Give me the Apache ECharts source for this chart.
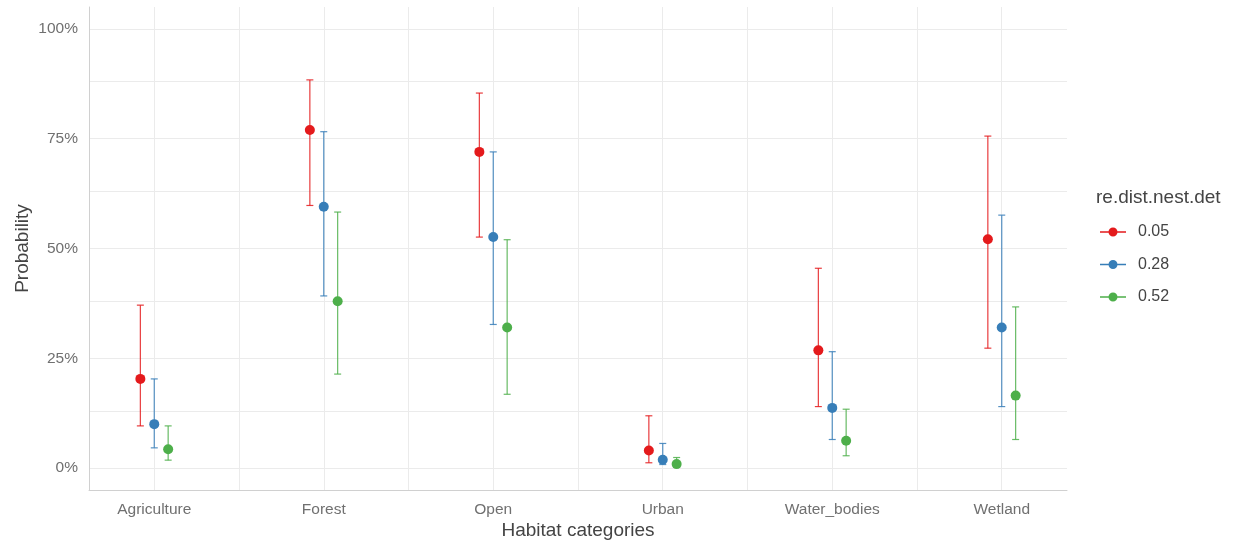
<!DOCTYPE html>
<html>
<head>
<meta charset="utf-8">
<script src="https://cdn.jsdelivr.net/npm/echarts@6.0.0/dist/echarts.min.js"></script>
<style>
html,body{margin:0;padding:0;background:#fff;}
#chart{width:1239px;height:543px;}
</style>
</head>
<body>
<div id="chart"></div>
<script>
// ---- data (proportions, 0..1) ----
const categories = ['Agriculture','Forest','Open','Urban','Water_bodies','Wetland'];
const groups = ['0.05','0.28','0.52'];
const est_005 = [0.203, 0.770, 0.720, 0.040, 0.268, 0.521];
const low_005 = [0.096, 0.598, 0.526, 0.012, 0.140, 0.273];
const up_005  = [0.371, 0.884, 0.854, 0.119, 0.455, 0.756];
const est_028 = [0.100, 0.595, 0.526, 0.019, 0.137, 0.320];
const low_028 = [0.046, 0.392, 0.327, 0.008, 0.065, 0.140];
const up_028  = [0.203, 0.766, 0.720, 0.056, 0.265, 0.576];
const est_052 = [0.043, 0.380, 0.320, 0.009, 0.062, 0.165];
const low_052 = [0.018, 0.214, 0.168, 0.003, 0.028, 0.065];
const up_052  = [0.096, 0.583, 0.520, 0.024, 0.134, 0.367];
const yTicks = [0, 0.25, 0.5, 0.75, 1];

const colors = ['#E41A1C','#377EB8','#4DAF4A'];
const dodge = [-0.082, 0, 0.082];
const ests = [est_005, est_028, est_052];
const lows = [low_005, low_028, low_052];
const ups  = [up_005, up_028, up_052];

const gridX = [];
for (let i = 0; i <= 10; i++) gridX.push(i * 0.5);
const gridY = [];
for (let i = 0; i <= 8; i++) gridY.push(i * 0.125);

const series = [];
// grid lines drawn through the axes' scales
series.push({
  type: 'line', data: [], silent: true, z: 0,
  markLine: {
    silent: true, symbol: ['none','none'], label: {show:false}, z: 0,
    lineStyle: {color:'#ebebeb', width:1, type:'solid'},
    emphasis: {disabled:true},
    animation: false,
    data: gridX.map(v => ({xAxis: v})).concat(gridY.map(v => ({yAxis: v})))
  }
});

groups.forEach((g, s) => {
  const barData = categories.map((c, i) => [i + dodge[s], lows[s][i], ups[s][i]]);
  const ptData = categories.map((c, i) => [i + dodge[s], ests[s][i]]);
  series.push({
    type: 'custom', name: g, z: 6,
    data: barData,
    renderItem: function (params, api) {
      const x = api.value(0);
      const top = api.coord([x, api.value(2)]);
      const bot = api.coord([x, api.value(1)]);
      const cw = 3.5;
      const st = {stroke: colors[s], lineWidth: 1.2, opacity: 0.85};
      return {
        type: 'group',
        children: [
          {type:'line', shape:{x1:top[0], y1:top[1], x2:bot[0], y2:bot[1]}, style: st},
          {type:'line', shape:{x1:top[0]-cw, y1:top[1], x2:top[0]+cw, y2:top[1]}, style: st},
          {type:'line', shape:{x1:bot[0]-cw, y1:bot[1], x2:bot[0]+cw, y2:bot[1]}, style: st}
        ]
      };
    },
    itemStyle: {color: colors[s]}
  });
  series.push({
    type: 'scatter', name: g, z: 7,
    data: ptData, symbol: 'circle', symbolSize: 10,
    itemStyle: {color: colors[s], opacity: 1}
  });
});

const chart = echarts.init(document.getElementById('chart'), null, {renderer:'canvas'});
chart.setOption({
  animation: false,
  backgroundColor: '#ffffff',
  textStyle: {fontFamily: 'Liberation Sans, Arial, sans-serif'},
  title: {
    text: 're.dist.nest.det', left: 1096, top: 188, padding: 0,
    textStyle: {fontSize: 19, fontWeight: 'normal', color: '#444444', fontFamily: 'Liberation Sans, Arial, sans-serif'}
  },
  legend: {
    orient: 'vertical', left: 1100, top: 224, padding: 0,
    itemWidth: 26, itemHeight: 9, itemGap: 16.5,
    data: groups.map(g => ({name: g, icon: 'path://M0,3.8 L26,3.8 L26,5.2 L0,5.2 Z M17.5,4.5 A4.5,4.5 0 1,1 8.5,4.5 A4.5,4.5 0 1,1 17.5,4.5 Z'})),
    textStyle: {fontSize: 16, color: '#444444', lineHeight: 16, padding: [0,0,0,7], fontFamily: 'Liberation Sans, Arial, sans-serif'},
    selectedMode: false
  },
  grid: {left: 89, right: 172, top: 7, bottom: 53, containLabel: false, outerBoundsMode: 'none'},
  xAxis: {
    type: 'value', min: -0.385, max: 5.385,
    name: 'Habitat categories', nameLocation: 'middle', nameGap: 31, nameMoveOverlap: false,
    nameTextStyle: {fontSize: 19, color: '#444444'},
    axisLine: {show: true, onZero: false, lineStyle: {color: '#d0d0d0', width: 1}},
    axisTick: {show: false},
    splitLine: {show: false},
    axisLabel: {
      customValues: [0,1,2,3,4,5], margin: 12, fontSize: 15.5, color: '#707070',
      formatter: v => categories[Math.round(v)]
    }
  },
  yAxis: {
    type: 'value', min: -0.05, max: 1.05,
    name: 'Probability', nameLocation: 'middle', nameGap: 57, nameMoveOverlap: false,
    nameTextStyle: {fontSize: 19, color: '#444444'},
    axisLine: {show: true, onZero: false, lineStyle: {color: '#d0d0d0', width: 1}},
    axisTick: {show: false},
    splitLine: {show: false},
    axisLabel: {
      customValues: yTicks, margin: 11, fontSize: 15.5, color: '#707070',
      formatter: v => Math.round(v * 100) + '%'
    }
  },
  series: series
});
</script>
</body>
</html>
